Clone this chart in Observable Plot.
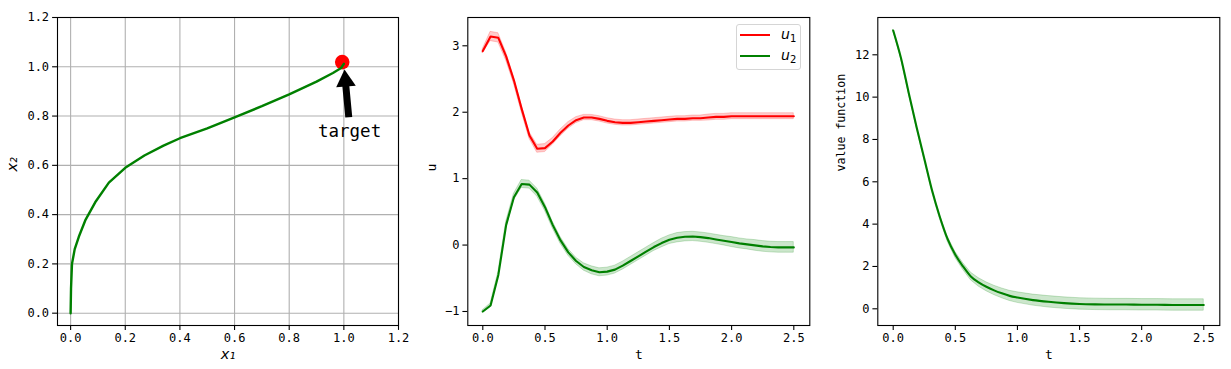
<!DOCTYPE html>
<html><head><meta charset="utf-8">
<script src="https://cdn.jsdelivr.net/npm/d3@7"></script>
<script src="https://cdn.jsdelivr.net/npm/@observablehq/plot@0.6"></script>
<style>
body{margin:0;background:#fff;}
#wrap{position:relative;width:1231px;height:369px;overflow:hidden;background:#fff;}
.panel{position:absolute;top:0;}
#legend{position:absolute;left:736px;top:24px;width:65px;height:46px;border:1px solid #d5d5d5;border-radius:3px;background:rgba(255,255,255,0.8);box-sizing:border-box;font-family:"DejaVu Sans",sans-serif;}
#legend .sw{position:absolute;left:3px;width:30px;height:2px;}
#legend .lb{position:absolute;left:44px;font-size:14px;line-height:14px;}
#legend .lb i{font-style:italic;}
#legend .lb sub{font-size:10px;vertical-align:-3px;font-style:normal;}
</style></head><body><div id="wrap"></div>
<script>
// ---------- Panel 1: trajectory ----------
const x1 = [0, 0.0015, 0.005, 0.015, 0.03, 0.055, 0.09, 0.14, 0.2, 0.27, 0.34, 0.4, 0.5, 0.6, 0.7, 0.8, 0.9, 0.96, 0.99, 1.0];
const x2 = [0, 0.1, 0.2, 0.26, 0.31, 0.38, 0.45, 0.53, 0.59, 0.64, 0.68, 0.71, 0.75, 0.795, 0.84, 0.888, 0.94, 0.975, 0.995, 1.012];
const targetPoint = {x: 0.994, y: 1.019};
const arrowTail = {x: 1.018, y: 0.795};
const arrowBase = {x: 1.007, y: 0.925};
const arrowHead = {x: 1.006, y: 0.943};
const targetLabel = {x: 1.021, y: 0.737, text: "target"};
const ticks1 = [0, 0.2, 0.4, 0.6, 0.8, 1.0, 1.2];

// ---------- Panel 2: controls ----------
const t = [0,0.0625,0.125,0.1875,0.25,0.3125,0.375,0.4375,0.5,0.5625,0.625,0.6875,0.75,0.8125,0.875,0.9375,1.0,1.0625,1.125,1.1875,1.25,1.3125,1.375,1.4375,1.5,1.5625,1.625,1.6875,1.75,1.8125,1.875,1.9375,2.0,2.0625,2.125,2.1875,2.25,2.3125,2.375,2.4375,2.5];
const u1 = [2.92,3.14,3.12,2.84,2.48,2.05,1.65,1.45,1.46,1.56,1.69,1.80,1.88,1.92,1.92,1.90,1.87,1.85,1.84,1.84,1.85,1.86,1.87,1.88,1.89,1.90,1.90,1.91,1.91,1.92,1.93,1.93,1.94,1.94,1.94,1.94,1.94,1.94,1.94,1.94,1.94];
const u1Spread = [0.03,0.07,0.07,0.06,0.05,0.05,0.05,0.06,0.06,0.05,0.05,0.05,0.045,0.04,0.04,0.04,0.04,0.04,0.04,0.04,0.04,0.04,0.04,0.04,0.04,0.04,0.04,0.04,0.04,0.045,0.045,0.045,0.045,0.045,0.045,0.045,0.045,0.045,0.045,0.045,0.045];
const u2 = [-1.0,-0.91,-0.45,0.30,0.72,0.92,0.91,0.79,0.57,0.30,0.07,-0.11,-0.24,-0.33,-0.38,-0.41,-0.40,-0.37,-0.31,-0.24,-0.17,-0.10,-0.03,0.03,0.08,0.11,0.125,0.13,0.12,0.105,0.085,0.065,0.045,0.025,0.01,-0.005,-0.02,-0.03,-0.035,-0.035,-0.035];
const u2Spread = [0.02,0.03,0.04,0.05,0.05,0.06,0.06,0.06,0.055,0.05,0.05,0.05,0.05,0.055,0.06,0.06,0.06,0.06,0.06,0.06,0.06,0.06,0.06,0.065,0.065,0.07,0.07,0.07,0.07,0.07,0.07,0.07,0.075,0.075,0.075,0.08,0.08,0.08,0.08,0.08,0.08];
const xTicksT = [0, 0.5, 1.0, 1.5, 2.0, 2.5];
const yTicksU = [-1, 0, 1, 2, 3];

// ---------- Panel 3: value function ----------
const tv = [0,0.0625,0.125,0.1875,0.25,0.3125,0.375,0.4375,0.5,0.5625,0.625,0.6875,0.75,0.8125,0.875,0.9375,1.0,1.125,1.25,1.375,1.5,1.625,1.75,1.875,2.0,2.125,2.25,2.375,2.5];
const vf = [13.15,11.85,10.2,8.6,7.1,5.6,4.35,3.3,2.55,2.0,1.53,1.25,1.04,0.87,0.73,0.61,0.53,0.41,0.33,0.27,0.23,0.21,0.2,0.2,0.19,0.19,0.18,0.18,0.18];
const vfSpread = [0.02,0.02,0.03,0.04,0.05,0.07,0.09,0.12,0.14,0.16,0.18,0.2,0.21,0.22,0.23,0.24,0.25,0.26,0.27,0.27,0.27,0.27,0.27,0.27,0.27,0.27,0.27,0.27,0.27];
const yTicksV = [0, 2, 4, 6, 8, 10, 12];

const traj = x1.map((x, i) => ({x, y: x2[i]}));
const uRows = t.map((tt, i) => ({t: tt, u1: u1[i], s1: u1Spread[i], u2: u2[i], s2: u2Spread[i]}));
const vRows = tv.map((tt, i) => ({t: tt, v: vf[i], s: vfSpread[i]}));

const mono = "DejaVu Sans Mono, monospace";
const baseStyle = {fontFamily: mono, fontSize: "12px", color: "black", background: "transparent", overflow: "visible"};
const fmt1 = d3.format(".1f");
const axOpts = {tickSize: 4.9, tickPadding: 3.5, strokeWidth: 1.1, label: null};

const wrap = document.getElementById("wrap");
function place(svg, left) {
  svg.classList.add("panel");
  svg.style.left = left + "px";
  wrap.appendChild(svg);
}

// Panel 1
place(Plot.plot({
  width: 410, height: 369,
  marginLeft: 57, marginRight: 12, marginTop: 17, marginBottom: 44,
  style: baseStyle,
  x: {domain: [-0.048, 1.2]},
  y: {domain: [-0.05, 1.2]},
  marks: [
    Plot.gridX(ticks1, {stroke: "#b0b0b0", strokeOpacity: 1, strokeWidth: 1.1}),
    Plot.gridY(ticks1, {stroke: "#b0b0b0", strokeOpacity: 1, strokeWidth: 1.1}),
    Plot.dot([targetPoint], {x: "x", y: "y", r: 7.3, fill: "red", stroke: null}),
    Plot.line(traj, {x: "x", y: "y", stroke: "green", strokeWidth: 2.4}),
    Plot.link([{a: arrowTail, b: arrowBase}], {x1: d => d.a.x, y1: d => d.a.y, x2: d => d.b.x, y2: d => d.b.y, stroke: "black", strokeWidth: 7, strokeLinecap: "butt"}),
    Plot.dot([arrowHead], {x: "x", y: "y", symbol: "triangle", r: 7.3, fill: "black", stroke: null, rotate: -4.9}),
    Plot.text([targetLabel], {x: "x", y: "y", text: "text", fontSize: 17.5, fontFamily: mono}),
    Plot.axisX(ticks1, {...axOpts, tickFormat: fmt1}),
    Plot.axisY(ticks1, {...axOpts, tickFormat: fmt1}),
    Plot.text(["x₁"], {frameAnchor: "bottom", dy: 33, fontFamily: "DejaVu Sans", fontStyle: "italic", fontSize: 14.5}),
    Plot.text(["x₂"], {frameAnchor: "left", dx: -45, rotate: -90, fontFamily: "DejaVu Sans", fontStyle: "italic", fontSize: 14.5}),
    Plot.frame({stroke: "black", strokeWidth: 1.1})
  ]
}), 0);

// Panel 2
place(Plot.plot({
  width: 410, height: 369,
  marginLeft: 57.3, marginRight: 10.7, marginTop: 17, marginBottom: 44,
  style: baseStyle,
  x: {domain: [-0.1206, 2.6286]},
  y: {domain: [-1.211, 3.426]},
  marks: [
    Plot.areaY(uRows, {x: "t", y1: d => d.u1 - d.s1, y2: d => d.u1 + d.s1, fill: "red", fillOpacity: 0.2, stroke: "red", strokeOpacity: 0.2, strokeWidth: 1}),
    Plot.line(uRows, {x: "t", y: "u1", stroke: "red", strokeWidth: 2.1}),
    Plot.areaY(uRows, {x: "t", y1: d => d.u2 - d.s2, y2: d => d.u2 + d.s2, fill: "green", fillOpacity: 0.2, stroke: "green", strokeOpacity: 0.2, strokeWidth: 1}),
    Plot.line(uRows, {x: "t", y: "u2", stroke: "green", strokeWidth: 2.1}),
    Plot.axisX(xTicksT, {...axOpts, tickFormat: fmt1}),
    Plot.axisY(yTicksU, {...axOpts, tickFormat: d3.format("")}),
    Plot.text(["t"], {frameAnchor: "bottom", dy: 33, fontSize: 13}),
    Plot.text(["u"], {frameAnchor: "left", dx: -36, rotate: -90, fontSize: 13}),
    Plot.frame({stroke: "black", strokeWidth: 1.1})
  ]
}), 410);

// Panel 3
place(Plot.plot({
  width: 411, height: 369,
  marginLeft: 57.3, marginRight: 11.7, marginTop: 17, marginBottom: 44,
  style: baseStyle,
  x: {domain: [-0.124, 2.629]},
  y: {domain: [-0.789, 13.762]},
  marks: [
    Plot.areaY(vRows, {x: "t", y1: d => d.v - d.s, y2: d => d.v + d.s, fill: "green", fillOpacity: 0.2, stroke: "green", strokeOpacity: 0.2, strokeWidth: 1}),
    Plot.line(vRows, {x: "t", y: "v", stroke: "green", strokeWidth: 2.1, curve: "monotone-x"}),
    Plot.axisX(xTicksT, {...axOpts, tickFormat: fmt1}),
    Plot.axisY(yTicksV, {...axOpts, tickFormat: d3.format("")}),
    Plot.text(["t"], {frameAnchor: "bottom", dy: 33, fontSize: 13}),
    Plot.text(["value function"], {frameAnchor: "left", dx: -37, rotate: -90, fontSize: 11.6}),
    Plot.frame({stroke: "black", strokeWidth: 1.1})
  ]
}), 820);

// Legend for panel 2
const legendItems = [{name: "u", sub: "1", color: "red"}, {name: "u", sub: "2", color: "green"}];
const lg = document.createElement("div");
lg.id = "legend";
legendItems.forEach((it, i) => {
  const sw = document.createElement("div");
  sw.className = "sw";
  sw.style.top = (9 + i * 21.4) + "px";
  sw.style.background = it.color;
  lg.appendChild(sw);
  const lb = document.createElement("div");
  lb.className = "lb";
  lb.style.top = (2 + i * 21.4) + "px";
  lb.innerHTML = `<i>${it.name}</i><sub>${it.sub}</sub>`;
  lg.appendChild(lb);
});
wrap.appendChild(lg);
</script></body></html>
